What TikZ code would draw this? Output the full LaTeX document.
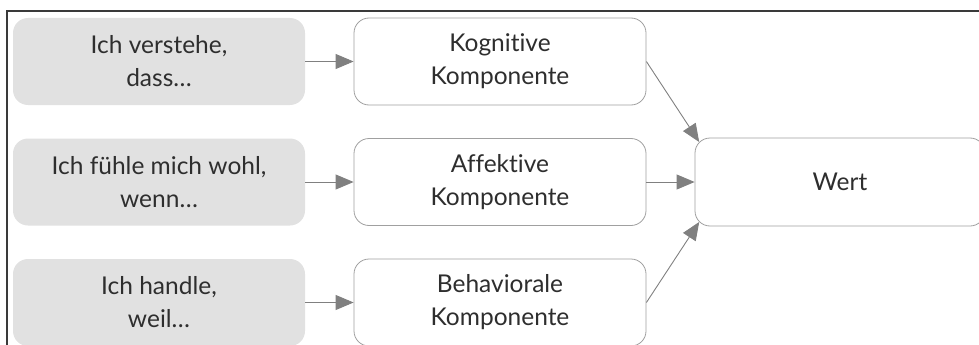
\documentclass[tikz,border=0pt]{standalone}
\usepackage{fontspec}
\setmainfont{Lato}[Ligatures=NoCommon]
\usetikzlibrary{arrows.meta}
\definecolor{boxgray}{HTML}{E1E1E1}
\definecolor{txtcol}{HTML}{2E2E2E}
\definecolor{edgecol}{HTML}{A0A0A0}
\definecolor{arrcol}{HTML}{808080}
\definecolor{framecol}{HTML}{3A3A3A}
\tikzset{
  base/.style={rounded corners=15pt, minimum width=292pt, minimum height=87pt, inner sep=0pt,
    align=center, text=txtcol, font=\fontsize{24.5}{33}\selectfont},
  graybox/.style={base, fill=boxgray},
  whitebox/.style={base, draw=edgecol, line width=0.8pt, fill=white},
  conn/.style={draw=arrcol, line width=0.9pt, -{Triangle[length=18pt,width=15pt]}},
}
\begin{document}
\begin{tikzpicture}[x=1pt,y=-1pt]
\useasboundingbox (0,0) rectangle (979,345);
\draw[framecol, line width=1.3pt] (7,346) -- (7,11) -- (980,11);
\node[graybox] (g1) at (159,61.5) {Ich verstehe,\\dass\dots};
\node[graybox] (g2) at (159,182) {Ich fühle mich wohl,\\wenn\dots};
\node[graybox] (g3) at (159,302.5) {Ich handle,\\weil\dots};
\node[whitebox] (w1) at (500,61.5) {Kognitive\\Komponente};
\node[whitebox] (w2) at (500,182) {Affektive\\Komponente};
\node[whitebox] (w3) at (500,302.5) {Behaviorale\\Komponente};
\node[whitebox, minimum width=290pt, minimum height=88pt] (wert) at (840,182) {Wert};
\coordinate (wtl) at ([xshift=4.6pt,yshift=-4.4pt]wert.north west);
\coordinate (wbl) at ([xshift=4.6pt,yshift=4.4pt]wert.south west);
\draw[conn] (g1) -- (w1);
\draw[conn] (g2) -- (w2);
\draw[conn] (g3) -- (w3);
\draw[conn] (w1.east) -- (wtl);
\draw[conn] (w2) -- (wert);
\draw[conn] (w3.east) -- (wbl);
\end{tikzpicture}
\end{document}
